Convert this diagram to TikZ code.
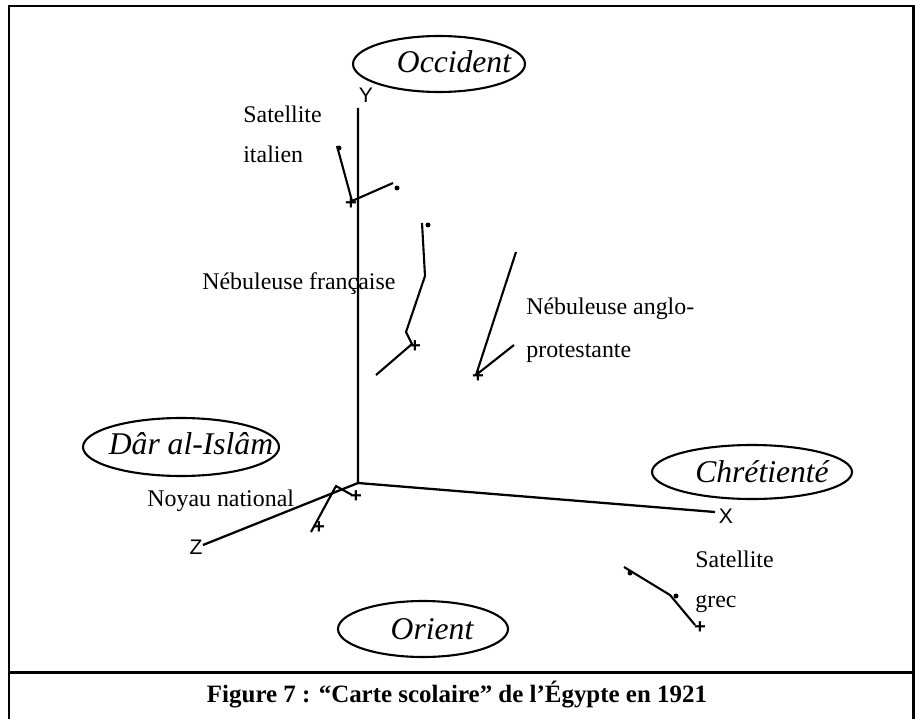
\documentclass[tikz,border=0pt]{standalone}
\usepackage{fontspec}
\setmainfont{Liberation Serif}
\setsansfont{Liberation Sans}
\usetikzlibrary{shapes.geometric}
\tikzset{
    cadre/.style={draw=black, line width=1.7pt},
    axe/.style={draw=black, line width=1.3pt},
    trace/.style={draw=black, line width=1.2pt, line join=round},
    pole/.style={ellipse, draw=black, line width=1.2pt, inner sep=0pt},
    nompole/.style={inner sep=0pt, font=\fontsize{18}{20}\selectfont\itshape},
    etiquette/.style={anchor=base west, inner sep=0pt, font=\fontsize{13.6}{15}\selectfont},
    nomaxe/.style={inner sep=0pt, font=\sffamily\fontsize{12}{14}\selectfont},
    croix/.style={inner sep=0pt, font=\sffamily\bfseries\fontsize{11.5}{12}\selectfont},
    point/.style={circle, fill=black, inner sep=0pt, minimum size=0.1cm},
}

\begin{document}
\begin{tikzpicture}[x=0.02cm, y=-0.02cm]
	\useasboundingbox (0,0) rectangle (915,719);
	% cadre
	\draw[cadre] (9,725) -- (9,6) -- (913,6) -- (913,725);
	\draw[cadre] (9,672) -- (913,672);
	% axes
	\coordinate (O) at (358,483);
	\coordinate (Yh) at (358,108);
	\coordinate (Xd) at (715,512);
	\coordinate (Zg) at (203,545);
	\draw[axe] (Yh) -- (O) -- (Xd);
	\draw[axe] (O) -- (Zg);
	\node[nomaxe] (Y) at (366,95) {Y};
	\node[nomaxe] (X) at (726,516) {X};
	\node[nomaxe] (Z) at (196,547) {Z};
	% poles
	\node[pole, minimum width=3.44cm, minimum height=1.12cm] (occident) at (439,64) {};
	\node[nompole] at (454,62) {Occident};
	\node[pole, minimum width=3.92cm, minimum height=1.16cm] (islam) at (181,447) {};
	\node[nompole] at (191,444) {Dâr al-Islâm};
	\node[pole, minimum width=4cm, minimum height=1.08cm] (chretiente) at (752,472) {};
	\node[nompole] at (762,472) {Chrétienté};
	\node[pole, minimum width=3.4cm, minimum height=1.12cm] (orient) at (423,629) {};
	\node[nompole] at (432,629) {Orient};
	% satellite italien
	\coordinate (it1) at (337,146);
	\coordinate (it2) at (352,201);
	\coordinate (it3) at (393,183);
	\draw[trace] (it1) -- (it2) -- (it3);
	\node[point] (itA) at (339,148) {};
	\node[point] (itB) at (397,188) {};
	\node[croix] (itC) at (351,204) {+};
	\node[etiquette] (italien1) at (243,123) {Satellite};
	\node[etiquette] (italien2) at (243,163) {italien};
	% nebuleuse francaise
	\coordinate (fr1) at (422,223);
	\coordinate (fr2) at (425,276);
	\coordinate (fr3) at (406,332);
	\coordinate (fr4) at (412,344);
	\coordinate (fr5) at (376,375);
	\draw[trace] (fr1) -- (fr2) -- (fr3) -- (fr4) -- (fr5);
	\node[point] (frA) at (428,225) {};
	\node[croix] (frC) at (415,347) {+};
	\node[etiquette] (francaise) at (202,290) {Nébuleuse française};
	% nebuleuse anglo-protestante
	\coordinate (an1) at (516,252);
	\coordinate (an2) at (476,375);
	\coordinate (an3) at (514,345);
	\draw[trace] (an1) -- (an2) -- (an3);
	\node[croix] (anC) at (478,377) {+};
	\node[etiquette] (anglo1) at (526,315) {Nébuleuse anglo-};
	\node[etiquette] (anglo2) at (526,357) {protestante};
	% noyau national
	\coordinate (no1) at (311,532);
	\coordinate (no2) at (336,486);
	\coordinate (no3) at (352,495);
	\draw[trace] (no1) -- (no2) -- (no3);
	\node[croix] (noC1) at (356,497) {+};
	\node[croix] (noC2) at (319,528) {+};
	\node[etiquette] (noyau) at (147,506) {Noyau national};
	% satellite grec
	\coordinate (gr1) at (624,567);
	\coordinate (gr2) at (670,595);
	\coordinate (gr3) at (695,625);
	\draw[trace] (gr1) -- (gr2) -- (gr3);
	\node[point] (grA) at (630,573) {};
	\node[point] (grB) at (676,596) {};
	\node[croix] (grC) at (700,628) {+};
	\node[etiquette] (grec1) at (695,567) {Satellite};
	\node[etiquette] (grec2) at (695,607) {grec};
	% legende
	\node[inner sep=0pt, font=\bfseries\fontsize{14.2}{16}\selectfont] (legende) at (457,695) {Figure 7 : “Carte scolaire” de l’Égypte en 1921};
\end{tikzpicture}
\end{document}
